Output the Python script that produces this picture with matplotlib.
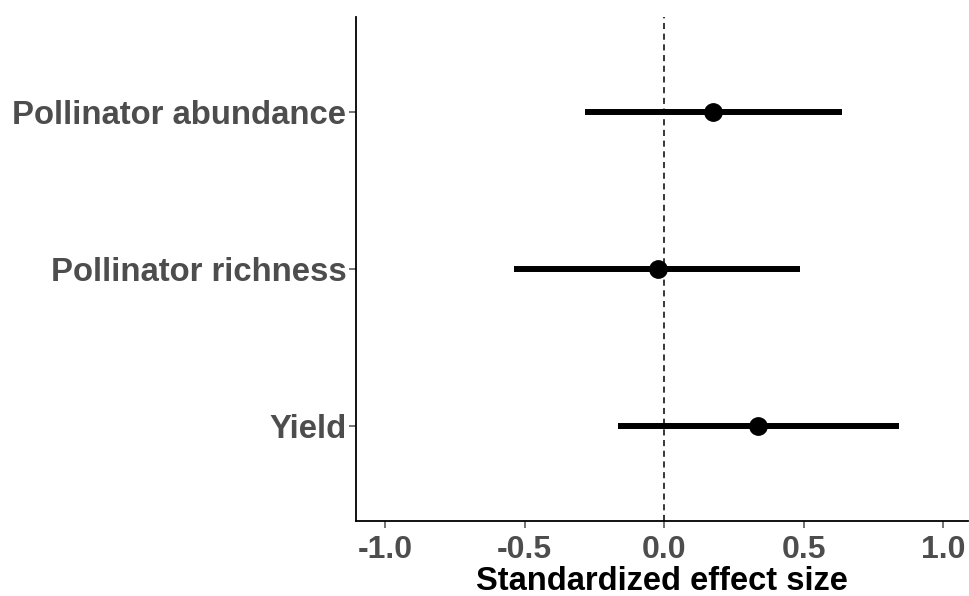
import numpy as np
import matplotlib.pyplot as plt

# effect sizes with lower / upper interval bounds
labels = ['Yield', 'Pollinator richness', 'Pollinator abundance']
estimate = [0.337, -0.022, 0.174]
lower = [-0.166, -0.537, -0.284]
upper = [0.844, 0.488, 0.638]

plt.rcParams['font.family'] = ['Liberation Sans', 'DejaVu Sans']
plt.rcParams['font.weight'] = 'bold'

fig = plt.figure(figsize=(9.7, 5.96), dpi=100)
ax = fig.add_axes([0.367, 0.126, 0.631, 0.845])

ypos = np.arange(1, len(labels) + 1)
ax.axvline(0, color='black', linestyle=(0, (4, 3)), linewidth=1.1, zorder=1)
ax.hlines(ypos, lower, upper, color='black', linewidth=4.3, zorder=2)
ax.plot(estimate, ypos, 'o', color='black', markersize=12.5, zorder=3)

ax.set_xlim(-1.105, 1.09)
ax.set_ylim(0.4, 3.6)
ax.set_xticks([-1.0, -0.5, 0.0, 0.5, 1.0])
ax.set_xticklabels(['-1.0', '-0.5', '0.0', '0.5', '1.0'])
ax.set_yticks(ypos)
ax.set_yticklabels(labels)
ax.tick_params(axis='both', colors='#4D4D4D', length=5, width=1.1)
ax.tick_params(axis='y', labelsize=23.7, pad=2)
ax.tick_params(axis='x', labelsize=23, pad=5)
for lab in ax.get_xticklabels() + ax.get_yticklabels():
    lab.set_color('#4D4D4D')

for side in ['top', 'right']:
    ax.spines[side].set_visible(False)
for side in ['left', 'bottom']:
    ax.spines[side].set_linewidth(1.3)
    ax.spines[side].set_color('black')

ax.set_xlabel('Standardized effect size', fontsize=23.5, fontweight='bold', color='black', labelpad=1)

fig.savefig('out.png', dpi=100)
